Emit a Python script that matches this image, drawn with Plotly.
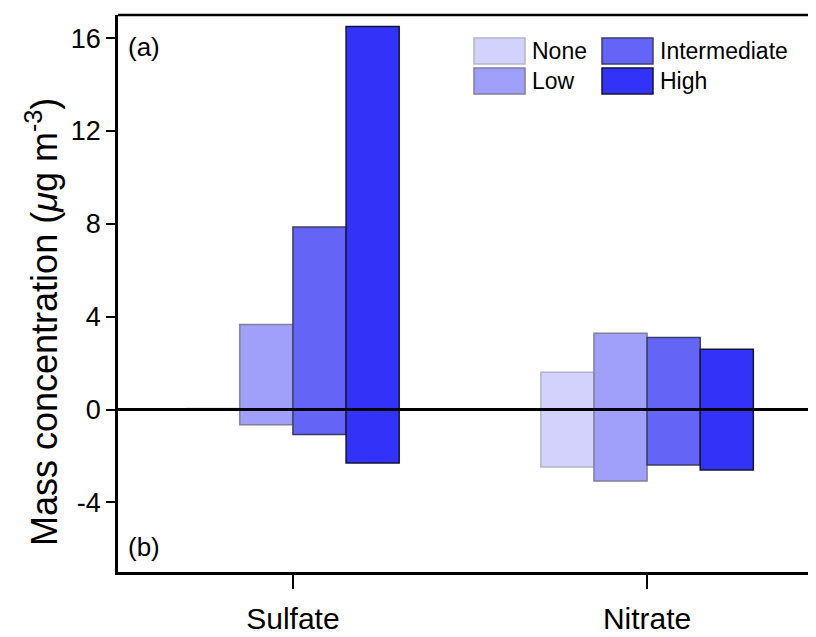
import plotly.graph_objects as go

categories = ["Sulfate", "Nitrate"]
levels = ["None", "Low", "Intermediate", "High"]
positive = {
    "None": [0.05, 1.61],
    "Low": [3.66, 3.29],
    "Intermediate": [7.87, 3.10],
    "High": [16.5, 2.60],
}
negative = {
    "None": [0.0, -2.48],
    "Low": [-0.65, -3.08],
    "Intermediate": [-1.08, -2.39],
    "High": [-2.30, -2.60],
}
y_tickvals = [-4, 0, 4, 8, 12, 16]
y_ticktext = ["-4", "0", "4", "8", "12", "16"]

fills = {"None": "#d2d2fd", "Low": "#a0a0fa", "Intermediate": "#6464f7", "High": "#3232f9"}
edges = {"None": "#b4b4c8", "Low": "#7f7f9c", "Intermediate": "#3c3c68", "High": "#14143a"}

OFF = 8  # page body margin
W, H = 816 - OFF, 637 - OFF
L, R, T, B = 110, 0, 7, 65
FONT = "Arial, Liberation Sans, sans-serif"

fig = go.Figure()
bw = 0.15
for i, lv in enumerate(levels):
    off = -0.3 + i * bw
    for vals in (positive[lv], negative[lv]):
        fig.add_trace(go.Bar(
            x=categories, y=vals, width=bw, offset=off,
            marker=dict(color=fills[lv], line=dict(color=edges[lv], width=1.5)),
            showlegend=False, name=lv,
        ))

# zero line over bars, and top frame line
fig.add_shape(type="line", xref="paper", x0=0, x1=1, yref="y", y0=0, y1=0,
              line=dict(color="black", width=3), layer="above")
fig.add_shape(type="line", xref="paper", x0=0, x1=1, yref="paper", y0=1, y1=1,
              line=dict(color="black", width=2.5), layer="above")

pw = W - L - R
ph = H - T - B
def px(x):
    return (x - OFF - L) / pw
def py(y):
    return (H - B - (y - OFF)) / ph

# manual legend
leg = [("None", 474, 38), ("Low", 474, 68), ("Intermediate", 602, 38), ("High", 602, 68)]
for lv, x0, y0 in leg:
    fig.add_shape(type="rect", xref="paper", yref="paper",
                  x0=px(x0), x1=px(x0 + 51), y0=py(y0 + 26), y1=py(y0),
                  fillcolor=fills[lv], line=dict(color=edges[lv], width=1.5))
    fig.add_annotation(xref="paper", yref="paper", x=px(x0 + 56), y=py(y0 + 13),
                       text=lv, showarrow=False, xanchor="left", yanchor="middle",
                       font=dict(family=FONT, size=23, color="black"))

fig.add_annotation(xref="paper", yref="paper", x=px(126), y=py(47), text="(a)",
                   showarrow=False, xanchor="left", yanchor="middle",
                   font=dict(family=FONT, size=26, color="black"))
fig.add_annotation(xref="paper", yref="paper", x=px(126), y=py(547), text="(b)",
                   showarrow=False, xanchor="left", yanchor="middle",
                   font=dict(family=FONT, size=26, color="black"))

# y-axis title
fig.add_annotation(xref="paper", yref="paper", x=px(42), y=py(322),
                   text="Mass concentration (<i>μ</i>g m<sup>-3</sup>)",
                   textangle=-90, showarrow=False, xanchor="center", yanchor="middle",
                   font=dict(family=FONT, size=36, color="black"))

fig.update_layout(
    width=W, height=H, barmode="overlay",
    margin=dict(l=L, r=R, t=T, b=B),
    paper_bgcolor="white", plot_bgcolor="white",
    font=dict(family=FONT, color="black"),
    xaxis=dict(range=[-0.494, 1.477], showline=True, linecolor="black", linewidth=2.5,
               mirror=False, ticks="outside", ticklen=14, tickwidth=2, tickcolor="black",
               showgrid=False, tickfont=dict(size=30), ticklabelstandoff=4,
               fixedrange=True),
    yaxis=dict(range=[-7, 17], tickvals=y_tickvals, ticktext=y_ticktext, showline=True,
               linecolor="black", linewidth=2.5, ticks="outside", ticklen=9, tickwidth=2,
               tickcolor="black", showgrid=False, zeroline=False, tickfont=dict(size=27),
               fixedrange=True),
)

fig.write_html("out.html")
